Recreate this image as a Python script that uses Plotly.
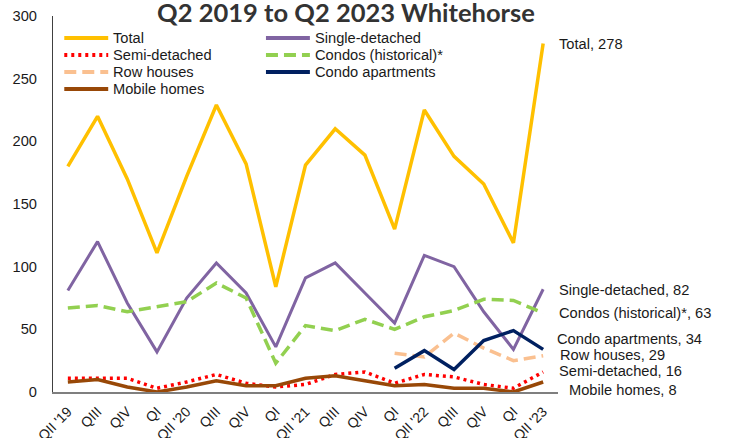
import plotly.graph_objects as go

# Quarter labels (Q2 2019 .. Q2 2023)
quarters = ["QII '19", "QIII", "QIV", "QI", "QII '20", "QIII", "QIV", "QI",
            "QII '21", "QIII", "QIV", "QI", "QII '22", "QIII", "QIV", "QI", "QII '23"]

total = [180, 220, 170, 111, 172, 229, 182, 84, 181, 210, 189, 130, 225, 188, 166, 119, 278]
single_detached = [81, 120, 71, 32, 75, 103, 79, 36, 91, 103, 79, 55, 109, 100, 64, 34, 82]
semi_detached = [11, 11, 11, 3, 8, 14, 7, 4, 6, 14, 16, 7, 14, 12, 6, 3, 16]
condos_historical = [67, 69, 64, 68, 72, 87, 75, 23, 53, 49, 58, 50, 60, 65, 74, 73, 63]
mobile_homes = [8, 10, 4, 0, 4, 9, 5, 5, 11, 13, 9, 5, 6, 3, 3, 0, 8]
# New series start in QI 2022 (index 11)
row_houses = [31, 28, 47, 35, 25, 29]
condo_apartments = [19, 33, 18, 41, 49, 34]
new_series_start = 11

W, H = 730, 438
PL, PR, PT, PB = 52.7, 558.5, 16, 392  # plot area in pixels


def px_x(p):
    return (p - PL) / (PR - PL)


def px_y(p):
    return (PB - p) / (PB - PT)


xs = list(range(len(quarters)))
xs_new = xs[new_series_start:]

series = [
    # name, x, y, colour, width, dash, legend col, legend row, label x(px), label yshift
    ("Total", xs, total, "#FFC000", 3.5, "solid", 0, 0, 557, 0),
    ("Single-detached", xs, single_detached, "#8064A2", 3, "solid", 1, 0, 557, -1),
    ("Semi-detached", xs, semi_detached, "#FF0000", 3.5, "3px,4px", 0, 1, 557, 1),
    ("Condos (historical)*", xs, condos_historical, "#92D050", 3.5, "12px,6px", 1, 1, 557, 0),
    ("Row houses", xs_new, row_houses, "#FAC090", 3.5, "12px,6px", 0, 2, 559, 1),
    ("Condo apartments", xs_new, condo_apartments, "#002060", 3.5, "solid", 1, 2, 555, 10),
    ("Mobile homes", xs, mobile_homes, "#984807", 3.5, "solid", 0, 3, 568, -8),
]

fig = go.Figure()
shapes = []
annotations = []
text_font = dict(family="Liberation Sans, Arial, sans-serif", size=14.67, color="#1a1a1a")

legend_cols = [64, 266]
legend_rows = [38, 55, 72, 89]

for name, x, y, color, width, dash, col, row, lab_x, lab_shift in series:
    fig.add_trace(go.Scatter(
        x=x, y=y, mode="lines", name=name, showlegend=False,
        line=dict(color=color, width=width, dash=dash),
        hoverinfo="skip",
    ))
    # legend sample + text
    lx = legend_cols[col]
    ly = legend_rows[row]
    shapes.append(dict(
        type="line", xref="paper", yref="paper",
        x0=px_x(lx), x1=px_x(lx + 44), y0=px_y(ly), y1=px_y(ly),
        line=dict(color=color, width=4, dash=dash),
    ))
    annotations.append(dict(
        xref="paper", yref="paper", x=px_x(lx + 47), y=px_y(ly),
        xanchor="left", yanchor="middle", text=name, showarrow=False,
        font=text_font,
    ))
    # end-of-line value label
    annotations.append(dict(
        xref="paper", yref="y", x=px_x(lab_x), y=y[-1], yshift=lab_shift,
        xanchor="left", yanchor="middle", text=f"{name}, {y[-1]}",
        showarrow=False, font=text_font,
    ))

fig.update_layout(
    width=W, height=H,
    margin=dict(l=PL, r=W - PR, t=PT, b=H - PB, pad=0),
    paper_bgcolor="white", plot_bgcolor="white",
    title=dict(
        text="<b>Q2 2019 to Q2 2023 Whitehorse</b>",
        x=346 / W, xanchor="center", y=1 - 13 / H, yanchor="middle",
        font=dict(family="Lato, Liberation Sans, sans-serif", size=25.5, color="#333333"),
    ),
    shapes=shapes,
    annotations=annotations,
    showlegend=False,
)

fig.update_xaxes(
    range=[-0.5, len(quarters) - 0.5],
    tickmode="array", tickvals=xs, ticktext=quarters,
    tickangle=-45, showgrid=False, zeroline=False,
    showline=True, linecolor="#7F7F7F", linewidth=2,
    ticks="", ticklabelstandoff=4, automargin=False,
    tickfont=dict(family="Liberation Sans, Arial, sans-serif", size=14, color="#1a1a1a"),
)
fig.update_yaxes(
    range=[0, 300], tickvals=[0, 50, 100, 150, 200, 250, 300],
    showgrid=False, zeroline=False,
    showline=True, linecolor="#404040", linewidth=1.2,
    ticks="", ticklabelstandoff=12, automargin=False,
    tickfont=dict(family="Liberation Sans, Arial, sans-serif", size=14.67, color="#1a1a1a"),
)

fig.write_html("out.html")
